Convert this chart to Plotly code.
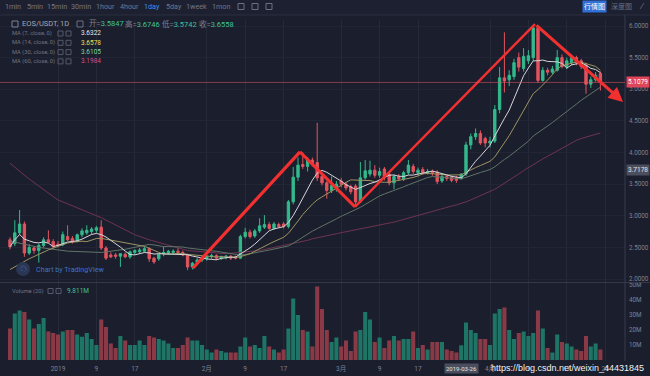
import plotly.graph_objects as go
import pandas as pd

# ---------------- data ----------------
start_date = "2018-12-22"
opens = [2.62,2.56,2.73,2.87,2.41,2.49,2.45,2.53,2.62,2.59,
         2.55,2.54,2.67,2.64,2.61,2.70,2.73,2.75,2.77,2.82,
         2.49,2.38,2.38,2.36,2.39,2.35,2.42,2.43,2.44,2.48,
         2.33,2.32,2.40,2.41,2.42,2.44,2.42,2.38,2.19,2.26,
         2.30,2.33,2.35,2.37,2.33,2.35,2.36,2.35,2.33,2.67,
         2.74,2.68,2.76,2.82,2.86,2.80,2.86,2.87,2.83,3.22,
         3.61,3.81,3.78,3.88,3.84,3.62,3.52,3.40,3.44,3.55,
         3.50,3.46,3.47,3.22,3.60,3.66,3.72,3.64,3.74,3.66,
         3.52,3.62,3.58,3.68,3.78,3.68,3.73,3.68,3.70,3.69,
         3.55,3.62,3.61,3.60,3.5847,3.66,4.12,4.25,4.30,4.22,
         4.15,4.18,4.68,5.18,5.15,5.20,5.50,5.33,5.45,5.50,
         5.97,5.14,5.30,5.27,5.30,5.50,5.36,5.42,5.50,5.45,
         5.38,5.08,5.15,5.25]
highs = [2.66,2.93,3.09,2.91,2.55,2.52,2.56,2.66,2.77,2.63,
         2.60,2.75,2.85,2.68,2.72,2.80,2.85,2.82,2.84,2.93,
         2.52,2.42,2.41,2.40,2.42,2.45,2.47,2.49,2.51,2.50,
         2.35,2.40,2.51,2.46,2.47,2.49,2.45,2.40,2.27,2.33,
         2.36,2.38,2.40,2.39,2.37,2.38,2.38,2.37,2.70,2.81,
         2.78,2.79,2.96,3.01,2.90,2.90,2.89,2.90,3.25,3.77,
         3.92,4.00,3.93,3.92,4.47,3.66,3.55,3.62,3.55,3.60,
         3.53,3.49,3.50,3.85,3.88,3.87,3.80,3.76,3.77,3.69,
         3.65,3.66,3.71,3.88,3.82,3.76,3.77,3.74,3.73,3.72,
         3.66,3.65,3.64,3.63,3.6746,4.17,4.30,4.38,4.35,4.25,
         4.25,4.75,5.35,5.90,5.30,5.48,5.58,5.65,5.62,6.00,
         6.00,5.35,5.34,5.37,5.62,5.55,5.50,5.55,5.53,5.48,
         5.42,5.20,5.27,5.28]
lows = [2.47,2.52,2.70,2.35,2.38,2.40,2.26,2.50,2.57,2.49,
        2.50,2.52,2.60,2.56,2.58,2.66,2.70,2.71,2.73,2.46,
        2.30,2.33,2.32,2.19,2.33,2.32,2.38,2.40,2.42,2.27,
        2.24,2.29,2.36,2.38,2.39,2.40,2.36,2.14,2.15,2.23,
        2.27,2.29,2.32,2.30,2.30,2.31,2.30,2.31,2.32,2.64,
        2.64,2.65,2.73,2.79,2.78,2.78,2.81,2.80,2.80,3.18,
        3.55,3.74,3.70,3.78,3.55,3.48,3.27,3.36,3.38,3.45,
        3.40,3.34,3.17,3.20,3.57,3.62,3.60,3.60,3.56,3.48,
        3.42,3.55,3.55,3.65,3.66,3.64,3.65,3.65,3.63,3.50,
        3.52,3.55,3.53,3.52,3.5742,3.63,4.05,4.20,4.12,4.08,
        4.08,4.15,4.62,4.95,5.05,5.15,5.28,5.28,5.40,5.45,
        5.10,5.12,5.22,5.24,5.28,5.33,5.32,5.38,5.38,5.32,
        4.93,5.02,5.12,4.98]
closes = [2.51,2.73,2.87,2.41,2.50,2.45,2.53,2.62,2.58,2.51,
          2.53,2.70,2.62,2.59,2.70,2.76,2.77,2.79,2.81,2.49,
          2.33,2.35,2.36,2.40,2.35,2.43,2.45,2.46,2.48,2.32,
          2.27,2.39,2.42,2.44,2.44,2.42,2.38,2.19,2.25,2.30,
          2.33,2.35,2.37,2.33,2.35,2.36,2.33,2.33,2.67,2.74,
          2.67,2.76,2.84,2.86,2.80,2.87,2.83,2.83,3.22,3.61,
          3.80,3.78,3.88,3.83,3.60,3.52,3.40,3.48,3.50,3.50,
          3.44,3.38,3.22,3.60,3.71,3.72,3.64,3.70,3.60,3.52,
          3.62,3.58,3.68,3.80,3.70,3.72,3.68,3.70,3.67,3.54,
          3.62,3.59,3.56,3.56,3.6558,4.12,4.25,4.30,4.15,4.15,
          4.18,4.68,5.18,5.13,5.22,5.42,5.35,5.52,5.53,5.97,
          5.14,5.30,5.27,5.32,5.50,5.36,5.45,5.50,5.42,5.36,
          5.08,5.15,5.22,5.1079]
volumes_m = [21,31,33,32,27,21,24,28,19,18,
             17,19,20,20,17,15.5,18,14,10,27,
             22,11,8,16,13,10,10,13,10,16,
             15,14,13,11,8,8,10,15,13,13,
             10,7,5,7,6,5,5,5,9,15,
             9,10,8,16,9,7,5,7,21,41,
             30,20,19,9,49,34,20,12,15,9,
             13,6,19,20,32,27,12,15,8,13,
             16,13,14,14,19,8,10,7,12,12,
             12,7,6,5,9.811,25,20,18,14,14,
             10,31,34,35,20,14,18,19,16,18,
             33,21,8,5,17,12,11,9,7,6,
             16,9,11,7]

# moving-average lines before their windows fill
ma14_early_dates = ["2018-12-22", "2018-12-26", "2018-12-30", "2019-01-03"]
ma14_early_vals = [2.15, 2.32, 2.46, 2.57]
ma30_early_dates = ["2018-12-22", "2018-12-28", "2019-01-03", "2019-01-10", "2019-01-15"]
ma30_early_vals = [2.60, 2.50, 2.44, 2.42, 2.47]
ma60_early_dates = ["2018-12-22", "2018-12-26", "2019-01-01", "2019-01-10", "2019-01-17",
                    "2019-01-20", "2019-01-28", "2019-02-05", "2019-02-12"]
ma60_early_vals = [3.83, 3.58, 3.25, 2.97, 2.70, 2.62, 2.45, 2.40, 2.45]

# hand-drawn zig-zag trend lines
zig_dates = ["2019-01-29 02:00", "2019-02-20 10:00", "2019-03-03 21:00", "2019-04-10 09:00"]
zig_prices = [2.17, 4.01, 3.14, 6.03]
arrow_end_date = "2019-04-28 17:00"
arrow_end_price = 4.80

price_ticks = [2.0, 2.5, 3.0, 3.5, 4.0, 4.5, 5.0, 5.5, 6.0]
vol_ticks_m = [10, 20, 30, 40, 50]
date_ticks = ["2019-01-01", "2019-01-09", "2019-01-17", "2019-02-01", "2019-02-09", "2019-02-17",
              "2019-03-01", "2019-03-09", "2019-03-17", "2019-04-01", "2019-04-09", "2019-04-17",
              "2019-04-25"]
date_tick_labels = ["2019", "9", "17", "2月", "9", "17", "3月", "9", "17", "4月", "9", "17", "25"]
last_price = 5.1079
cross_price = 3.7178
cross_date_label = "2019-03-26"
cross_date = "2019-03-26"
ohlc_cross = [("开", "3.5847"), ("高", "3.6746"), ("低", "3.5742"), ("收", "3.6558")]
ma_legend = [("MA (7, close, 0)", "3.6322", "#e6e6e6"),
             ("MA (14, close, 0)", "3.6578", "#e8e05a"),
             ("MA (30, close, 0)", "3.6105", "#7fd6a0"),
             ("MA (60, close, 0)", "3.1984", "#d2508c")]
intervals = ["1min", "5min", "15min", "30min", "1hour", "4hour", "1day", "5day", "1week", "1mon"]

# ---------------- derived ----------------
dates = pd.date_range(start_date, periods=len(closes), freq="D")
cs = pd.Series(closes, index=dates)
ma7 = cs.rolling(7, min_periods=1).mean()
ma14 = cs.rolling(14).mean().dropna()
ma30 = cs.rolling(30).mean().dropna()
ma60 = cs.rolling(60).mean().dropna()

GREEN = "#33b98c"
RED = "#e2545f"
BG = "#1b1e2c"
TXT = "#7d8294"

vol_colors = ["#1e7565" if c >= o else "#8a3a46" for o, c in zip(opens, closes)]

# pixel helpers for decorations (plot area: x 0..625, y 20..361)
W, H = 650, 376
L, R, T, B = 0, 25, 20, 15
def pxx(x):
    return (x - L) / (W - L - R)
def pxy(y):
    return (H - B - y) / (H - T - B)

fig = go.Figure()

fig.add_trace(go.Bar(x=dates, y=[v * 1e6 for v in volumes_m], marker_color=vol_colors,
                     marker_line_width=0, xaxis="x", yaxis="y2", showlegend=False))

def line(xs, ys, color, width=1):
    fig.add_trace(go.Scatter(x=list(xs), y=list(ys), mode="lines",
                             line=dict(color=color, width=width), xaxis="x", yaxis="y",
                             showlegend=False, hoverinfo="skip"))

line(list(pd.to_datetime(ma60_early_dates)) + list(ma60.index), ma60_early_vals + list(ma60.values), "#6e3452", 1)
line(list(pd.to_datetime(ma30_early_dates)) + list(ma30.index), ma30_early_vals + list(ma30.values), "#5f7468", 1)
line(list(pd.to_datetime(ma14_early_dates)) + list(ma14.index), ma14_early_vals + list(ma14.values), "#9c9562", 1)

fig.add_trace(go.Candlestick(x=dates, open=opens, high=highs, low=lows, close=closes,
                             increasing=dict(line=dict(color=GREEN, width=1), fillcolor=GREEN),
                             decreasing=dict(line=dict(color=RED, width=1), fillcolor=RED),
                             whiskerwidth=0, xaxis="x", yaxis="y", showlegend=False))

line(ma7.index, ma7.values, "#d6d6da", 1)

# zig-zag
fig.add_trace(go.Scatter(x=zig_dates[:2], y=zig_prices[:2], mode="lines",
                         line=dict(color="#f23030", width=3.2), xaxis="x", yaxis="y", showlegend=False))
fig.add_trace(go.Scatter(x=zig_dates[1:3], y=zig_prices[1:3], mode="lines",
                         line=dict(color="#f23030", width=3), xaxis="x", yaxis="y", showlegend=False))
fig.add_trace(go.Scatter(x=zig_dates[2:4], y=zig_prices[2:4], mode="lines",
                         line=dict(color="#f23030", width=2.4), xaxis="x", yaxis="y", showlegend=False))

ann = [dict(x=arrow_end_date, y=arrow_end_price, ax=zig_dates[3], ay=zig_prices[3],
            xref="x", yref="y", axref="x", ayref="y", showarrow=True, text="",
            arrowhead=2, arrowsize=0.9, arrowwidth=3.2, arrowcolor="#f23030")]

shapes = []
# top toolbar
shapes.append(dict(type="rect", xref="paper", yref="paper", x0=0, x1=pxx(650), y0=pxy(15), y1=pxy(0),
                   fillcolor="#1d2030", line_width=0, layer="below"))
shapes.append(dict(type="line", xref="paper", yref="paper", x0=0, x1=pxx(650), y0=pxy(15), y1=pxy(15),
                   line=dict(color="#2a2e3f", width=1)))
# pane separator
shapes.append(dict(type="line", xref="paper", yref="paper", x0=0, x1=pxx(650), y0=pxy(282.5), y1=pxy(282.5),
                   line=dict(color="#343849", width=1)))
# right axis line
shapes.append(dict(type="line", xref="paper", yref="paper", x0=1, x1=1, y0=pxy(361), y1=pxy(15),
                   line=dict(color="#363a4c", width=1)))
# last price line
shapes.append(dict(type="line", xref="paper", yref="y", x0=0, x1=1, y0=last_price, y1=last_price,
                   line=dict(color="rgba(226,84,95,0.55)", width=1)))

def text(x, y, s, color=TXT, size=7.5, xanchor="left", bg=None, family="Roboto, Noto Sans CJK SC"):
    ann.append(dict(x=pxx(x), y=pxy(y), xref="paper", yref="paper", text=s, showarrow=False,
                    xanchor=xanchor, yanchor="middle", font=dict(color=color, size=size, family=family),
                    bgcolor=bg, borderpad=1))

# toolbar labels (centres)
tool_x = [12.5, 35, 57, 81.5, 105.5, 129.5, 152, 173.5, 196.5, 220.5]
for xx, s in zip(tool_x, intervals):
    text(xx, 6.5, s, color="#3f8fe6" if s == "1day" else "#727789", size=7.2, xanchor="center")
for xx in [241, 255, 269]:
    shapes.append(dict(type="rect", xref="paper", yref="paper", x0=pxx(xx - 3), x1=pxx(xx + 3),
                       y0=pxy(9.5), y1=pxy(3.5), line=dict(color="#6b7083", width=1)))
text(594, 6, "行情图", color="#ffffff", size=7, xanchor="center", bg="#2f6fd6")
text(621, 6, "深度图", color="#6b7083", size=7, xanchor="center")
shapes.append(dict(type="line", xref="paper", yref="paper", x0=pxx(640), x1=pxx(644), y0=pxy(9), y1=pxy(3),
                   line=dict(color="#55596b", width=1)))

# legend row
shapes.append(dict(type="rect", xref="paper", yref="paper", x0=pxx(12), x1=pxx(18), y0=pxy(27), y1=pxy(21),
                   line=dict(color="#7d8294", width=1)))
text(20, 24, "EOS/USDT, 1D", color="#a3a8b8", size=7.5)
shapes.append(dict(type="rect", xref="paper", yref="paper", x0=pxx(77), x1=pxx(83), y0=pxy(27), y1=pxy(21),
                   line=dict(color="#6b7083", width=1)))
ohlc_x = [87, 123, 160, 197]
for xx, (k, v) in zip(ohlc_x, ohlc_cross):
    text(xx, 24, "<span style='color:#7d8294'>" + k + "=</span>" + v, color="#3fc29a", size=7.5)
for i, (name, val, col) in enumerate(ma_legend):
    yy = 33.5 + i * 9.3
    text(10, yy, name, color="#6f7486", size=5.8)
    for xx in [58, 66]:
        shapes.append(dict(type="rect", xref="paper", yref="paper", x0=pxx(xx), x1=pxx(xx + 5),
                           y0=pxy(yy + 2.5), y1=pxy(yy - 2.5), line=dict(color="#55596b", width=1)))
    text(79, yy, val, color=col, size=6.5)

# volume legend
text(10, 291, "Volume (20)", color="#6f7486", size=5.8)
for xx in [48, 56]:
    shapes.append(dict(type="rect", xref="paper", yref="paper", x0=pxx(xx), x1=pxx(xx + 5),
                       y0=pxy(293.5), y1=pxy(288.5), line=dict(color="#55596b", width=1)))
text(65, 291, "9.811M", color="#3fc29a", size=6.5)

# TradingView mark
shapes.append(dict(type="circle", xref="paper", yref="paper", x0=pxx(16), x1=pxx(30), y0=pxy(276), y1=pxy(262),
                   fillcolor="#2a3654", line_width=0))
text(23, 269, "☁", color="#5b8fe0", size=7, xanchor="center")
text(34, 269.5, "Chart by TradingView", color="#3e73c8", size=7.2)

# price label boxes on the right axis
text(626, 26 + (6 - last_price) * 63.25, "5.1079", color="#ffffff", size=6.5, bg="#e0455a")
text(626, 26 + (6 - cross_price) * 63.25, "3.7178", color="#e6e6e6", size=6.5, bg="#4a4e5e")

# crosshair date label
ann.append(dict(x=cross_date, y=pxy(368), xref="x", yref="paper", text=cross_date_label, showarrow=False,
                xanchor="center", yanchor="middle", font=dict(color="#e6e6e6", size=6, family="Roboto"),
                bgcolor="#4a4e5e", borderpad=1))

# watermark
text(646, 368, "https://blog.csdn.net/weixin_44431845", color="#f2f2f2", size=9, xanchor="right",
     family="Liberation Sans, Arial")

fig.update_layout(
    width=W, height=H, margin=dict(l=L, r=R, t=T, b=B, autoexpand=False),
    paper_bgcolor=BG, plot_bgcolor=BG, bargap=0.15, showlegend=False, hovermode=False,
    font=dict(family="Roboto, Noto Sans CJK SC", color=TXT, size=7),
    xaxis=dict(type="date", range=["2018-12-19 22:00", "2019-04-29 03:00"], anchor="y2",
               tickvals=date_ticks, ticktext=date_tick_labels, tickfont=dict(size=6.5, color=TXT),
               showgrid=True, gridcolor="#252938", gridwidth=1, zeroline=False, showline=False,
               ticks="", ticklabelstandoff=2, rangeslider=dict(visible=False), fixedrange=True,
               automargin=False),
    yaxis=dict(domain=[pxy(282), 1], range=[6 - (282 - 26) / 63.25, 6 + 6 / 63.25], side="right",
               tickvals=price_ticks, tickformat=".4f", tickfont=dict(size=6.3, color=TXT),
               showgrid=True, gridcolor="#212536", zeroline=False, ticks="", ticklabelstandoff=3,
               automargin=False, fixedrange=True),
    yaxis2=dict(domain=[0, pxy(283)], range=[-(1 / 1.5) * 1e6, (360 - 283) / 1.5 * 1e6], side="right",
                tickvals=[v * 1e6 for v in vol_ticks_m], ticktext=[f"{v}M" for v in vol_ticks_m],
                tickfont=dict(size=6.3, color=TXT), showgrid=False, zeroline=False, ticks="",
                ticklabelstandoff=3, anchor="x", automargin=False, fixedrange=True),
    shapes=shapes, annotations=ann,
)

fig.write_html("out.html", config={"displayModeBar": False},
               post_script="document.body.style.margin='0';document.body.style.overflow='hidden';")
